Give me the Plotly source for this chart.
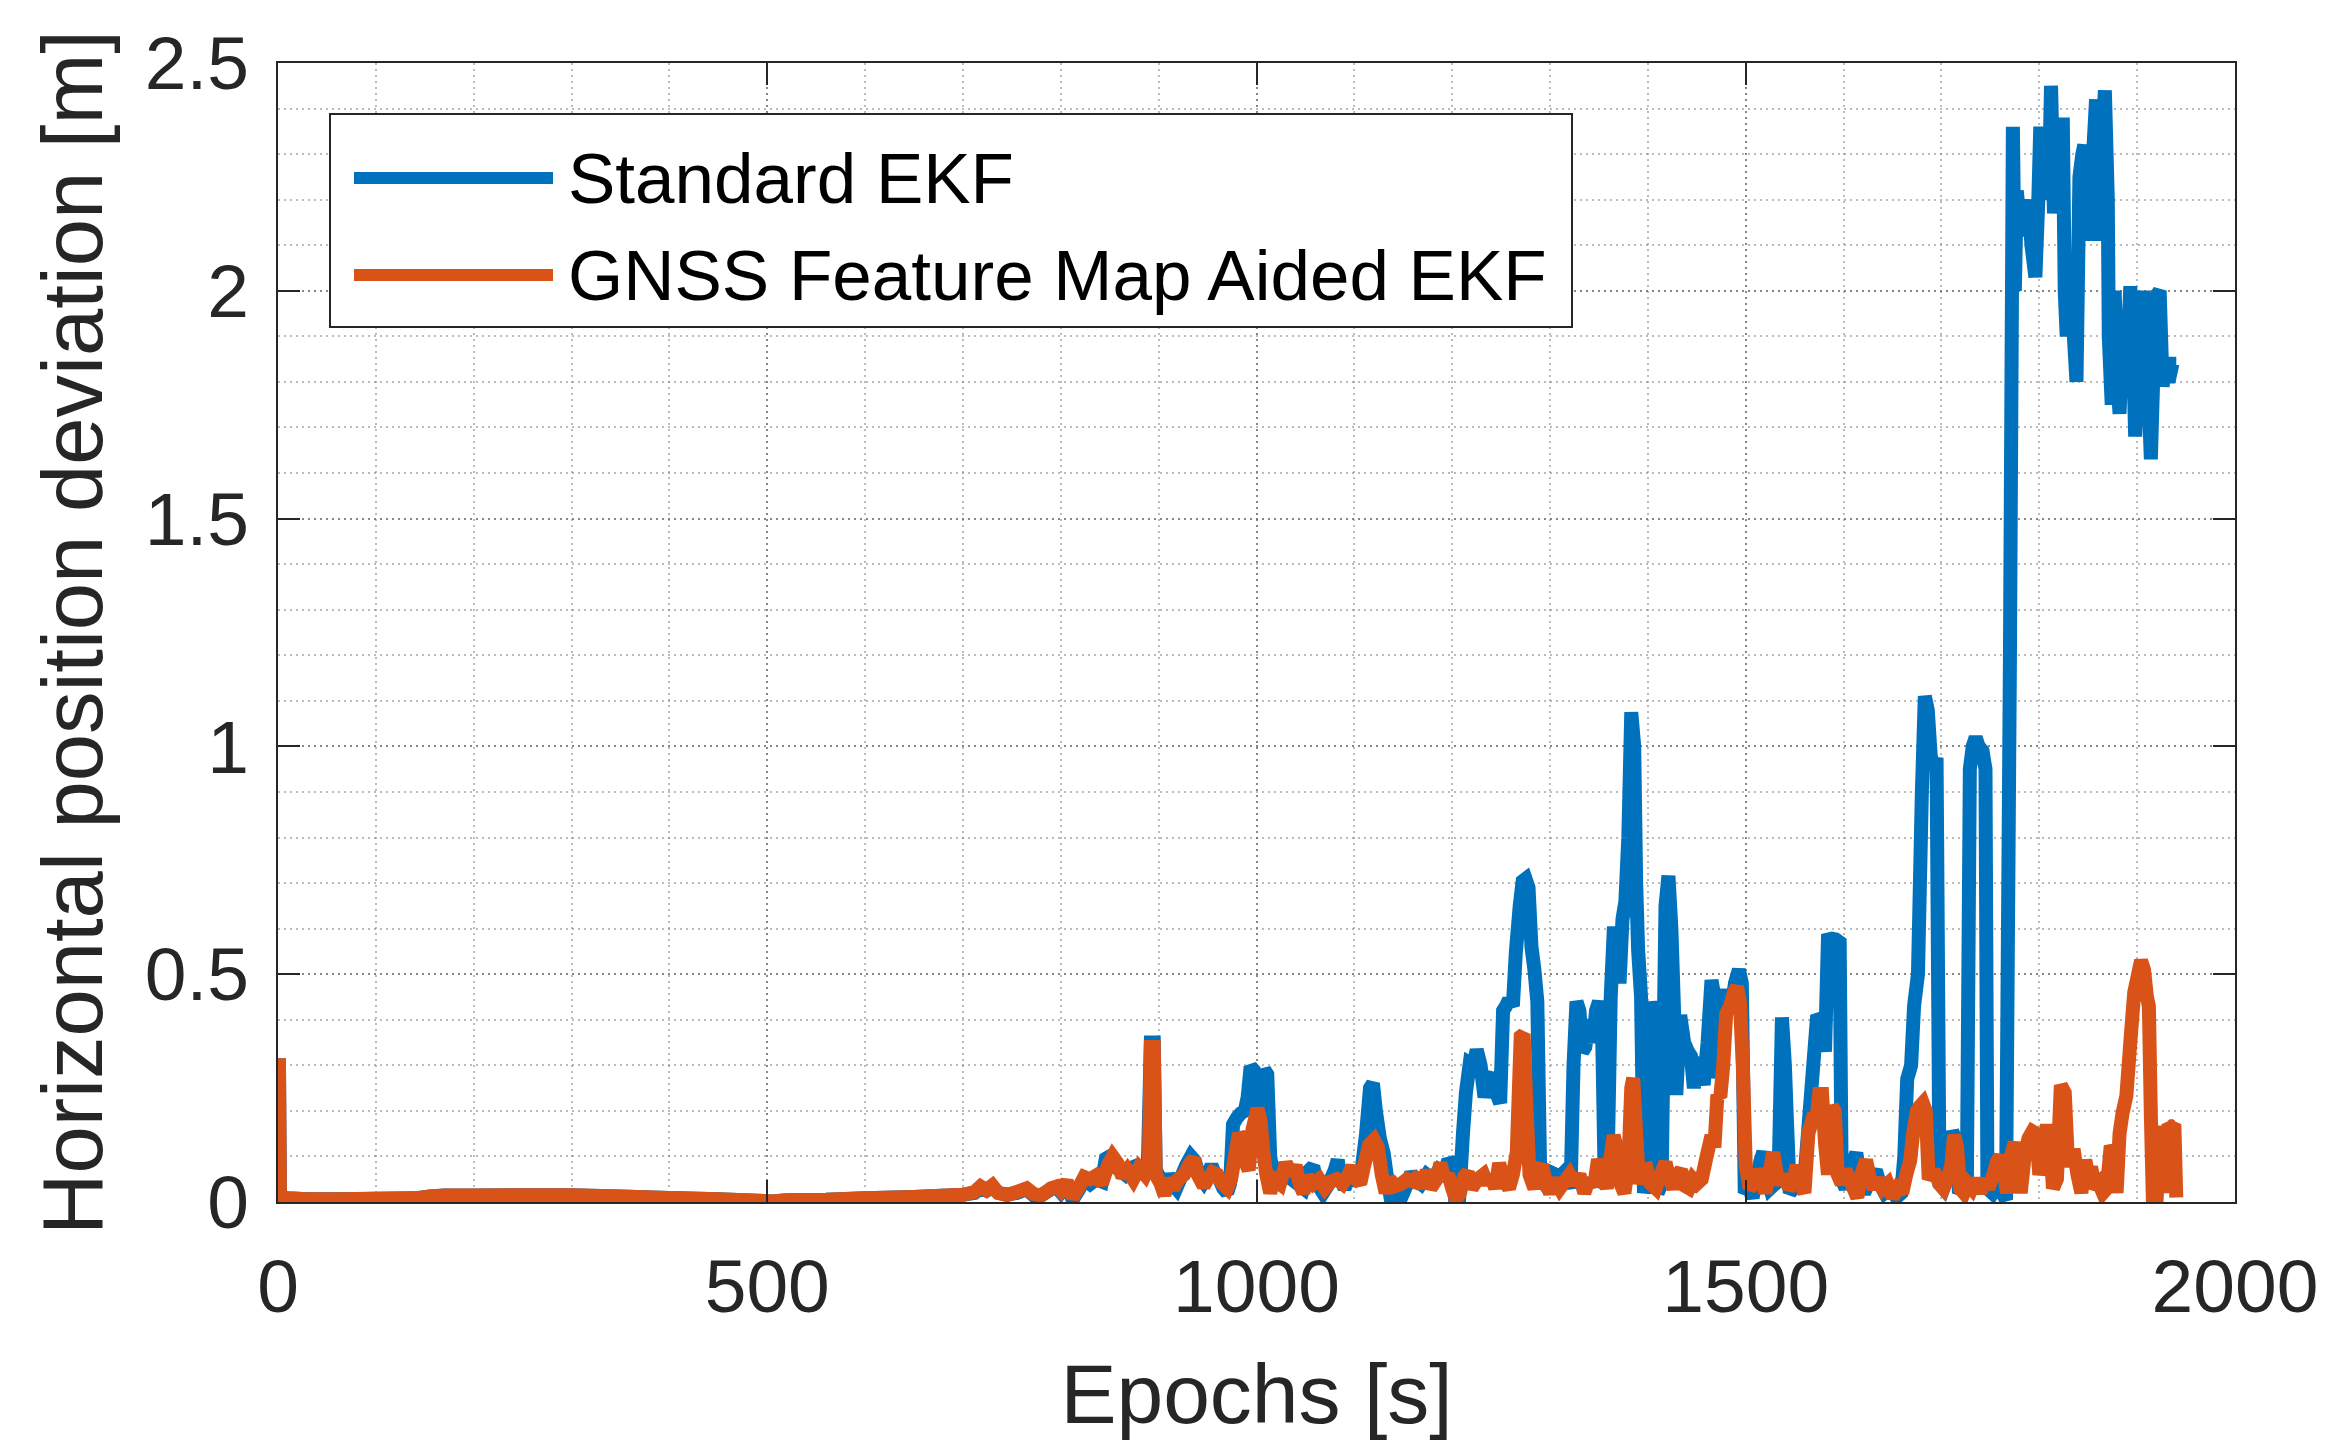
import plotly.graph_objects as go

# ---------------- data ----------------
series_names = ["Standard EKF", "GNSS Feature Map Aided EKF"]

# (epoch [s], horizontal position deviation [m]) - Standard EKF
std_samples = [
    (0, 0.30), (1, 0.30), (2, 0.012), (10, 0.008), (30, 0.006), (60, 0.006), (100, 0.007),
    (140, 0.008), (155, 0.012), (170, 0.014), (200, 0.014), (250, 0.015), (300, 0.015),
    (350, 0.012), (400, 0.009), (450, 0.006), (490, 0.003), (505, 0.001), (520, 0.004),
    (560, 0.005), (600, 0.008), (650, 0.011), (700, 0.016), (712, 0.020), (718, 0.030),
    (724, 0.025), (730, 0.033), (736, 0.020), (745, 0.016), (755, 0.020), (765, 0.028),
    (772, 0.015), (780, 0.015), (790, 0.028), (796, 0.032), (800, 0.022), (806, 0.040),
    (812, 0.005), (818, 0.025), (824, 0.050), (830, 0.040), (836, 0.050), (842, 0.045),
    (846, 0.095), (850, 0.100), (854, 0.080), (860, 0.070), (866, 0.060), (872, 0.075),
    (878, 0.080), (884, 0.070), (889, 0.085), (892, 0.350), (895, 0.350), (897, 0.070),
    (902, 0.050), (906, 0.030), (910, 0.060), (914, 0.040), (918, 0.030), (922, 0.050),
    (928, 0.080), (933, 0.100), (937, 0.090), (941, 0.060), (946, 0.045), (950, 0.060),
    (954, 0.080), (958, 0.060), (962, 0.050), (966, 0.030), (970, 0.020), (973, 0.040),
    (976, 0.170), (980, 0.185), (984, 0.195), (988, 0.200), (991, 0.230), (994, 0.297),
    (997, 0.290), (1000, 0.220), (1004, 0.200), (1008, 0.290), (1011, 0.280), (1014, 0.100),
    (1017, 0.060), (1022, 0.040), (1026, 0.085), (1030, 0.060), (1036, 0.050), (1042, 0.040),
    (1048, 0.030), (1054, 0.070), (1058, 0.078), (1062, 0.040), (1068, 0.020), (1074, 0.040),
    (1080, 0.070), (1083, 0.092), (1086, 0.050), (1090, 0.030), (1096, 0.060), (1102, 0.040),
    (1108, 0.080), (1112, 0.150), (1116, 0.250), (1119, 0.260), (1122, 0.200), (1126, 0.140),
    (1130, 0.107), (1133, 0.060), (1137, 0.010), (1142, 0.005), (1148, 0.010), (1154, 0.040),
    (1158, 0.063), (1162, 0.050), (1168, 0.040), (1174, 0.060), (1180, 0.050), (1186, 0.070),
    (1192, 0.060), (1196, 0.092), (1199, 0.085), (1203, 0.005), (1207, 0.003), (1211, 0.150),
    (1214, 0.240), (1218, 0.305), (1222, 0.300), (1225, 0.334), (1229, 0.300), (1233, 0.230),
    (1237, 0.270), (1241, 0.280), (1245, 0.240), (1249, 0.217), (1252, 0.420), (1255, 0.430),
    (1258, 0.444), (1262, 0.430), (1265, 0.547), (1269, 0.650), (1272, 0.704), (1275, 0.709),
    (1278, 0.690), (1281, 0.560), (1284, 0.510), (1287, 0.440), (1290, 0.050), (1294, 0.040),
    (1298, 0.030), (1302, 0.064), (1306, 0.060), (1310, 0.055), (1314, 0.064), (1318, 0.050),
    (1321, 0.030), (1324, 0.300), (1327, 0.440), (1330, 0.420), (1333, 0.330), (1336, 0.340),
    (1340, 0.400), (1344, 0.350), (1347, 0.420), (1350, 0.440), (1353, 0.400), (1356, 0.030),
    (1359, 0.100), (1362, 0.450), (1365, 0.590), (1368, 0.590), (1371, 0.480), (1374, 0.620),
    (1377, 0.660), (1380, 0.800), (1383, 1.075), (1386, 1.000), (1388, 0.700), (1390, 0.553),
    (1393, 0.450), (1396, 0.020), (1400, 0.060), (1404, 0.440), (1407, 0.400), (1410, 0.020),
    (1414, 0.040), (1418, 0.650), (1421, 0.716), (1424, 0.600), (1427, 0.400), (1429, 0.235),
    (1433, 0.410), (1437, 0.350), (1441, 0.330), (1444, 0.320), (1447, 0.250), (1450, 0.316),
    (1453, 0.300), (1457, 0.257), (1461, 0.350), (1465, 0.487), (1468, 0.450), (1471, 0.272),
    (1474, 0.300), (1478, 0.440), (1481, 0.465), (1485, 0.420), (1489, 0.480), (1493, 0.510),
    (1496, 0.480), (1499, 0.020), (1503, 0.030), (1507, 0.010), (1511, 0.050), (1515, 0.090),
    (1518, 0.110), (1521, 0.060), (1525, 0.030), (1530, 0.040), (1534, 0.100), (1537, 0.405),
    (1540, 0.300), (1542, 0.183), (1545, 0.020), (1549, 0.030), (1553, 0.050), (1557, 0.030),
    (1561, 0.080), (1565, 0.190), (1569, 0.300), (1573, 0.410), (1577, 0.400), (1581, 0.330),
    (1584, 0.576), (1588, 0.578), (1592, 0.576), (1596, 0.570), (1598, 0.050), (1602, 0.030),
    (1606, 0.060), (1610, 0.090), (1613, 0.108), (1617, 0.040), (1621, 0.020), (1627, 0.050),
    (1633, 0.069), (1637, 0.040), (1642, 0.020), (1648, 0.030), (1654, 0.010), (1659, 0.020),
    (1662, 0.100), (1665, 0.270), (1669, 0.300), (1672, 0.430), (1676, 0.500), (1680, 0.900),
    (1683, 1.110), (1686, 1.080), (1689, 0.980), (1692, 0.950), (1695, 0.975), (1698, 0.040),
    (1702, 0.030), (1707, 0.060), (1711, 0.155), (1714, 0.140), (1718, 0.020), (1722, 0.030),
    (1726, 0.050), (1729, 0.950), (1732, 1.000), (1735, 1.020), (1738, 1.000), (1742, 0.990),
    (1745, 0.950), (1747, 0.030), (1752, 0.020), (1757, 0.040), (1762, 0.020), (1766, 0.005),
    (1770, 1.200), (1773, 2.360), (1775, 2.000), (1777, 2.220), (1780, 2.150), (1783, 2.200),
    (1786, 2.120), (1789, 2.200), (1792, 2.100), (1796, 2.030), (1799, 2.200), (1801, 2.360),
    (1804, 2.200), (1807, 2.300), (1810, 2.250), (1812, 2.450), (1815, 2.170), (1818, 2.300),
    (1821, 2.200), (1824, 2.380), (1826, 2.000), (1828, 1.900), (1831, 2.030), (1834, 1.950),
    (1838, 1.800), (1841, 2.250), (1844, 2.300), (1846, 2.320), (1849, 2.110), (1852, 2.250),
    (1855, 2.300), (1858, 2.420), (1861, 2.110), (1864, 2.300), (1867, 2.440), (1870, 2.200),
    (1871, 1.900), (1874, 1.750), (1877, 2.000), (1880, 1.800), (1882, 1.730), (1886, 1.950),
    (1889, 1.800), (1893, 2.010), (1896, 1.850), (1898, 1.680), (1902, 1.900), (1906, 2.000),
    (1909, 1.850), (1912, 1.750), (1914, 1.630), (1917, 1.850), (1920, 1.990), (1923, 2.000),
    (1926, 1.790), (1929, 1.850), (1932, 1.800), (1936, 1.840), (1940, 1.840),
]

# (epoch [s], horizontal position deviation [m]) - GNSS Feature Map Aided EKF
fm_samples = [
    (0, 0.30), (1, 0.30), (2, 0.012), (10, 0.008), (30, 0.006), (60, 0.006), (100, 0.007),
    (140, 0.008), (155, 0.012), (170, 0.014), (200, 0.014), (250, 0.015), (300, 0.015),
    (350, 0.012), (400, 0.009), (450, 0.006), (490, 0.003), (505, 0.001), (520, 0.004),
    (560, 0.005), (600, 0.008), (650, 0.011), (700, 0.016), (712, 0.022), (718, 0.034),
    (724, 0.026), (730, 0.036), (736, 0.020), (745, 0.015), (755, 0.022), (765, 0.030),
    (772, 0.018), (780, 0.014), (790, 0.030), (796, 0.034), (800, 0.025), (806, 0.045),
    (812, 0.010), (818, 0.030), (824, 0.055), (830, 0.050), (836, 0.058), (842, 0.040),
    (848, 0.080), (853, 0.100), (858, 0.085), (863, 0.055), (868, 0.070), (874, 0.050),
    (880, 0.075), (886, 0.060), (890, 0.080), (892, 0.340), (895, 0.340), (897, 0.060),
    (902, 0.040), (906, 0.015), (910, 0.050), (915, 0.030), (920, 0.050), (926, 0.060),
    (932, 0.085), (936, 0.095), (940, 0.060), (946, 0.035), (950, 0.050), (955, 0.065),
    (960, 0.060), (965, 0.040), (970, 0.030), (974, 0.050), (978, 0.100), (982, 0.150),
    (985, 0.140), (988, 0.090), (992, 0.070), (996, 0.160), (1001, 0.205), (1004, 0.180),
    (1007, 0.110), (1010, 0.060), (1014, 0.020), (1018, 0.050), (1024, 0.040), (1030, 0.085),
    (1036, 0.060), (1040, 0.080), (1044, 0.040), (1048, 0.020), (1052, 0.055), (1058, 0.040),
    (1064, 0.050), (1070, 0.030), (1076, 0.045), (1082, 0.050), (1088, 0.040), (1094, 0.060),
    (1098, 0.078), (1102, 0.050), (1106, 0.040), (1110, 0.080), (1115, 0.125), (1120, 0.136),
    (1124, 0.120), (1128, 0.060), (1132, 0.020), (1136, 0.050), (1142, 0.035), (1148, 0.040),
    (1154, 0.050), (1160, 0.045), (1166, 0.060), (1170, 0.030), (1174, 0.070), (1178, 0.030),
    (1184, 0.050), (1188, 0.085), (1192, 0.050), (1196, 0.060), (1200, 0.030), (1204, 0.005),
    (1208, 0.020), (1212, 0.055), (1216, 0.065), (1220, 0.030), (1226, 0.050), (1232, 0.060),
    (1236, 0.040), (1240, 0.055), (1244, 0.030), (1248, 0.085), (1252, 0.050), (1258, 0.030),
    (1262, 0.060), (1266, 0.110), (1270, 0.363), (1273, 0.368), (1276, 0.200), (1279, 0.060),
    (1284, 0.030), (1288, 0.070), (1292, 0.080), (1296, 0.040), (1300, 0.020), (1305, 0.050),
    (1310, 0.030), (1315, 0.045), (1320, 0.060), (1325, 0.040), (1330, 0.060), (1335, 0.020),
    (1340, 0.050), (1345, 0.035), (1349, 0.093), (1354, 0.060), (1358, 0.030), (1362, 0.100),
    (1365, 0.146), (1368, 0.120), (1372, 0.040), (1376, 0.020), (1380, 0.080), (1383, 0.250),
    (1385, 0.272), (1388, 0.150), (1391, 0.040), (1395, 0.070), (1399, 0.072), (1403, 0.040),
    (1408, 0.030), (1413, 0.060), (1418, 0.087), (1422, 0.050), (1426, 0.030), (1430, 0.060),
    (1434, 0.070), (1438, 0.035), (1442, 0.030), (1446, 0.050), (1450, 0.040), (1455, 0.050),
    (1460, 0.100), (1465, 0.146), (1468, 0.120), (1471, 0.235), (1474, 0.230), (1477, 0.300),
    (1480, 0.413), (1484, 0.430), (1488, 0.460), (1491, 0.472), (1494, 0.440), (1497, 0.300),
    (1500, 0.080), (1504, 0.030), (1508, 0.040), (1512, 0.070), (1516, 0.050), (1520, 0.020),
    (1524, 0.060), (1528, 0.109), (1532, 0.060), (1536, 0.040), (1540, 0.060), (1544, 0.030),
    (1548, 0.040), (1552, 0.080), (1556, 0.040), (1560, 0.020), (1564, 0.150), (1568, 0.180),
    (1572, 0.178), (1575, 0.237), (1578, 0.237), (1581, 0.130), (1584, 0.060), (1588, 0.210),
    (1591, 0.200), (1594, 0.060), (1598, 0.040), (1602, 0.070), (1606, 0.050), (1610, 0.030),
    (1614, 0.010), (1618, 0.060), (1623, 0.092), (1627, 0.050), (1631, 0.030), (1635, 0.050),
    (1640, 0.030), (1645, 0.040), (1650, 0.010), (1655, 0.030), (1660, 0.020), (1664, 0.060),
    (1668, 0.090), (1671, 0.150), (1675, 0.200), (1678, 0.210), (1681, 0.217), (1684, 0.200),
    (1687, 0.050), (1690, 0.060), (1694, 0.060), (1698, 0.040), (1702, 0.030), (1706, 0.050),
    (1710, 0.080), (1713, 0.147), (1716, 0.120), (1719, 0.030), (1723, 0.020), (1727, 0.040),
    (1731, 0.030), (1735, 0.050), (1740, 0.020), (1744, 0.050), (1748, 0.030), (1753, 0.060),
    (1757, 0.090), (1760, 0.100), (1763, 0.080), (1767, 0.020), (1771, 0.100), (1775, 0.131),
    (1778, 0.080), (1781, 0.020), (1785, 0.100), (1789, 0.140), (1793, 0.155), (1797, 0.150),
    (1800, 0.060), (1804, 0.100), (1808, 0.170), (1811, 0.130), (1814, 0.030), (1818, 0.050),
    (1822, 0.256), (1826, 0.240), (1829, 0.100), (1832, 0.080), (1835, 0.116), (1839, 0.060),
    (1843, 0.020), (1847, 0.092), (1850, 0.060), (1853, 0.077), (1857, 0.030), (1861, 0.040),
    (1865, 0.020), (1869, 0.030), (1873, 0.123), (1876, 0.110), (1879, 0.020), (1882, 0.150),
    (1885, 0.194), (1889, 0.233), (1893, 0.350), (1897, 0.460), (1901, 0.500), (1904, 0.530),
    (1907, 0.510), (1910, 0.450), (1912, 0.430), (1914, 0.190), (1916, 0.010), (1920, 0.010),
    (1923, 0.150), (1926, 0.163), (1929, 0.020), (1932, 0.170), (1935, 0.165), (1938, 0.170),
    (1940, 0.010),
]

std_epochs = [p[0] for p in std_samples]
std_dev = [p[1] for p in std_samples]
fm_epochs = [p[0] for p in fm_samples]
fm_dev = [p[1] for p in fm_samples]

x_tick_vals = [0, 500, 1000, 1500, 2000]
x_tick_text = ["0", "500", "1000", "1500", "2000"]
y_tick_vals = [0, 0.5, 1, 1.5, 2, 2.5]
y_tick_text = ["0", "0.5", "1", "1.5", "2", "2.5"]
x_title = "Epochs [s]"
y_title = "Horizontal position deviation [m]"

# ---------------- styling ----------------
BLUE = "#0072BD"
ORANGE = "#D95319"
AX = "#262626"
FONT = "Liberation Sans, Arial, Helvetica, sans-serif"
LW = 14

W, H = 2332, 1443
L, R, T, B = 278, 2235, 63, 1202   # plot-area pixel box


def px2paper(px, py):
    return (px - L) / (R - L), (B - py) / (B - T)


fig = go.Figure()
fig.add_trace(go.Scatter(x=std_epochs, y=std_dev, mode="lines", name=series_names[0],
                         line=dict(color=BLUE, width=LW, simplify=False), showlegend=False))
fig.add_trace(go.Scatter(x=fm_epochs, y=fm_dev, mode="lines", name=series_names[1],
                         line=dict(color=ORANGE, width=LW, simplify=False), showlegend=False))

grid_major = "rgba(100,100,100,0.6)"
grid_minor = "rgba(120,120,120,0.5)"

fig.update_xaxes(
    range=[0, 2000], tickvals=x_tick_vals, ticktext=x_tick_text,
    showline=True, linecolor=AX, linewidth=2, mirror="ticks",
    ticks="inside", ticklen=22, tickwidth=2, tickcolor=AX,
    showgrid=True, gridcolor=grid_major, gridwidth=2, griddash="2px,4px",
    minor=dict(dtick=100, tick0=0, showgrid=True, gridcolor=grid_minor, gridwidth=2,
               griddash="2px,4px", ticks=""),
    tickfont=dict(family=FONT, size=75, color=AX), ticklabelstandoff=18,
    title=dict(text=x_title, font=dict(family=FONT, size=84, color=AX), standoff=37),
    zeroline=False, fixedrange=True,
)
fig.update_yaxes(
    range=[0, 2.5], tickvals=y_tick_vals, ticktext=y_tick_text,
    showline=True, linecolor=AX, linewidth=2, mirror="ticks",
    ticks="inside", ticklen=22, tickwidth=2, tickcolor=AX,
    showgrid=True, gridcolor=grid_major, gridwidth=2, griddash="2px,4px",
    minor=dict(dtick=0.1, tick0=0, showgrid=True, gridcolor=grid_minor, gridwidth=2,
               griddash="2px,4px", ticks=""),
    tickfont=dict(family=FONT, size=75, color=AX), ticklabelstandoff=12,
    title=dict(text=y_title, font=dict(family=FONT, size=85, color=AX), standoff=14),
    zeroline=False, fixedrange=True,
)

# ---------------- legend (drawn in paper coordinates) ----------------
bx0, by0 = px2paper(330, 327)
bx1, by1 = px2paper(1572, 114)
shapes = [dict(type="rect", xref="paper", yref="paper", x0=bx0, y0=by0, x1=bx1, y1=by1,
               line=dict(color=AX, width=2), fillcolor="white", layer="above")]
annotations = []
rows_py = [178, 275]
for name, col, py in zip(series_names, [BLUE, ORANGE], rows_py):
    lx0, ly = px2paper(354, py)
    lx1, _ = px2paper(553, py)
    shapes.append(dict(type="line", xref="paper", yref="paper", x0=lx0, x1=lx1, y0=ly, y1=ly,
                       line=dict(color=col, width=12), layer="above"))
    tx, _ = px2paper(566, py)
    annotations.append(dict(text=name, xref="paper", yref="paper", x=tx, y=ly,
                            xanchor="left", yanchor="middle", showarrow=False,
                            font=dict(family=FONT, size=71, color="black")))

fig.update_layout(
    width=W, height=H,
    margin=dict(l=L, r=W - R, t=T, b=H - B, autoexpand=False),
    paper_bgcolor="white", plot_bgcolor="white",
    shapes=shapes, annotations=annotations,
    font=dict(family=FONT, color=AX),
)

fig.write_html("out.html", config={"displayModeBar": False})
